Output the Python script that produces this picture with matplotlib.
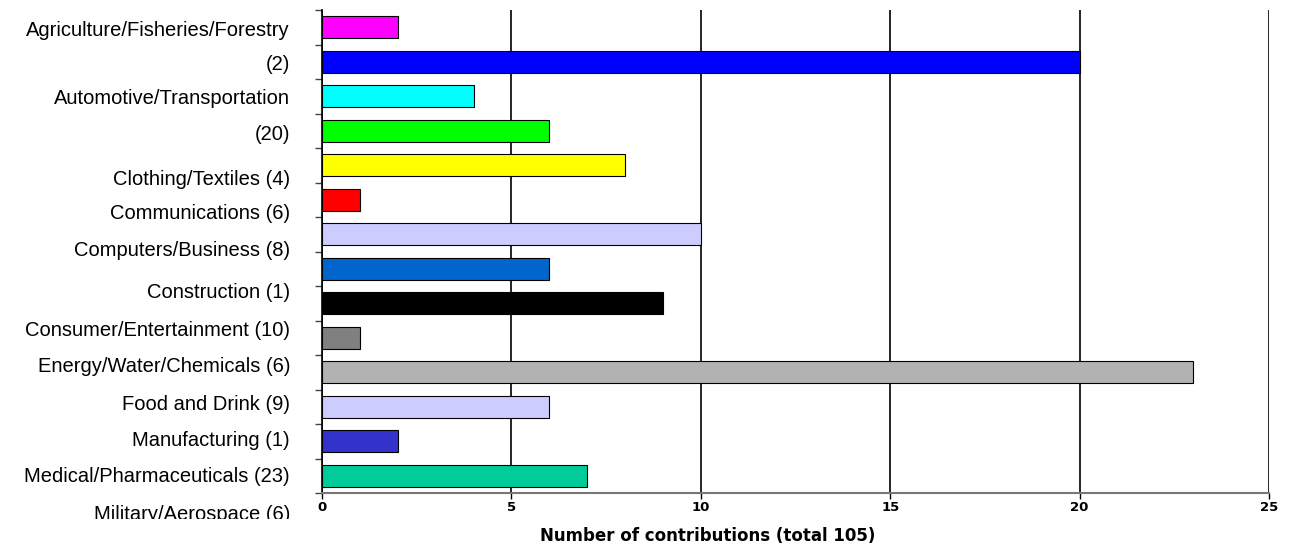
import matplotlib.pyplot as plt
from matplotlib.patches import Rectangle
import numpy as np

# sectors (label lines as they appear, wrapped) and counts per bar
label_lines = ["Agriculture/Fisheries/Forestry", "(2)", "Automotive/Transportation", "(20)",
               "Clothing/Textiles (4)", "Communications (6)", "Computers/Business (8)",
               "Construction (1)", "Consumer/Entertainment (10)", "Energy/Water/Chemicals (6)",
               "Food and Drink (9)", "Manufacturing (1)", "Medical/Pharmaceuticals (23)",
               "Military/Aerospace (6)"]
counts = [2, 20, 4, 6, 8, 1, 10, 6, 9, 1, 23, 6, 2, 7]
colors = ["#FF00FF", "#0000FF", "#00FFFF", "#00FF00", "#FFFF00", "#FF0000", "#CCCCFF",
          "#0066CC", "#000000", "#808080", "#B2B2B2", "#CCCCFF", "#3333CC", "#00CC99"]
xticks = [0, 5, 10, 15, 20, 25]

W, H = 1297, 546
fig = plt.figure(figsize=(W / 100, H / 100), dpi=100)
L, R, T, B = 322, 1269, 10, 493
ax = fig.add_axes([L / W, 1 - B / H, (R - L) / W, (B - T) / H])

n = len(counts)
y = np.arange(n)
ax.barh(y, counts, height=0.64, color=colors, edgecolor="black", linewidth=0.8, zorder=3)
ax.set_xlim(0, 25)
ax.set_ylim(n - 0.5, -0.5)

ax.set_xticks(xticks)
ax.set_xticklabels([str(t) for t in xticks], fontsize=9.5, fontweight="bold", family="DejaVu Sans")
ax.tick_params(axis="x", length=4, width=1, pad=2, direction="out")
ax.set_yticks(np.arange(n + 1) - 0.5)
ax.set_yticklabels([])
ax.tick_params(axis="y", length=5, width=1, color="#444444")
ax.grid(axis="x", color="black", linewidth=1.2, zorder=1)
for s in ["top", "right"]:
    ax.spines[s].set_visible(False)
ax.spines["left"].set_linewidth(1.2)
ax.spines["bottom"].set_color("#777777")
ax.spines["bottom"].set_linewidth(1.5)

# wrapped category labels, evenly laid out to the left of the plot (pixel rows)
label_px = [30, 65, 99, 134, 180, 214, 251, 292, 331, 367, 404, 441, 477, 515]
clip = Rectangle((0, 1 - 519 / H), 1, 519 / H, transform=fig.transFigure, visible=False)
fig.add_artist(clip)
for txt, py in zip(label_lines, label_px):
    t = fig.text(290 / W, 1 - py / H, txt, ha="right", va="center", fontsize=14.5,
                 family="Liberation Sans")
    t.set_clip_path(clip)
    t.set_clip_on(True)

fig.text(708 / W, 1 - 536 / H, "Number of contributions (total 105)", ha="center", va="center",
         fontsize=12, fontweight="bold", family="DejaVu Sans")

fig.savefig("out.png", dpi=100)
